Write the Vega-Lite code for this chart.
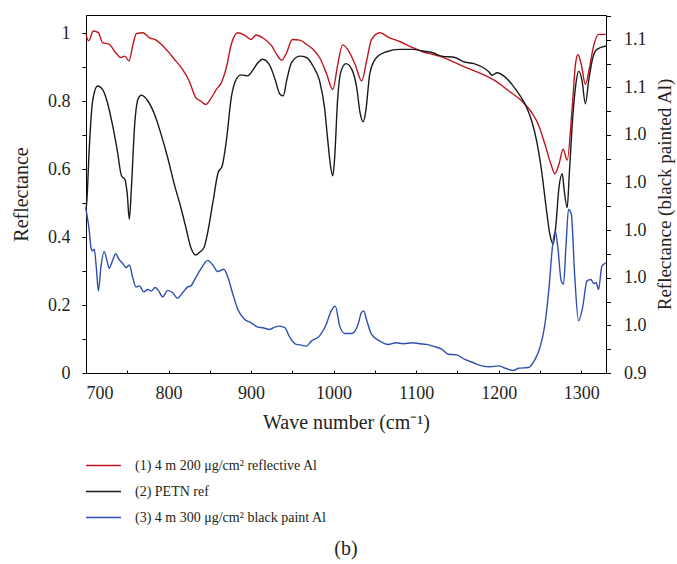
{
  "$schema": "https://vega.github.io/schema/vega-lite/v6.json",
  "width": 520,
  "height": 358,
  "autosize": {"type": "none"},
  "padding": {"left": 86, "top": 15, "right": 71, "bottom": 191},
  "background": "white",
  "title": {"text": "(b)", "orient": "bottom", "anchor": "middle", "font": "Liberation Serif", "fontSize": 20, "fontWeight": "normal", "color": "#231f20", "offset": 14},
  "config": {
    "view": {"stroke": "#000", "strokeWidth": 1},
    "axis": {"labelFont": "Liberation Serif", "labelFontSize": 18, "titleFont": "Liberation Serif", "titleFontSize": 20, "titleFontWeight": "normal", "labelColor": "#231f20", "titleColor": "#231f20", "domainColor": "#000", "tickColor": "#000", "grid": false},
    "legend": {"labelFont": "Liberation Serif", "titleFont": "Liberation Serif"}
  },
  "datasets": {
    "rb": [
      {"w":700,"r":0.996,"s":"1"},{"w":703,"r":0.977,"s":"1"},{"w":709,"r":1.006,"s":"1"},{"w":715,"r":1.001,"s":"1"},{"w":720,"r":0.972,"s":"1"},{"w":728,"r":0.967,"s":"1"},{"w":736,"r":0.942,"s":"1"},{"w":742,"r":0.928,"s":"1"},{"w":747,"r":0.932,"s":"1"},{"w":752,"r":0.918,"s":"1"},{"w":757,"r":0.967,"s":"1"},{"w":761,"r":0.998,"s":"1"},{"w":769,"r":1.001,"s":"1"},{"w":777,"r":0.986,"s":"1"},{"w":785,"r":0.979,"s":"1"},{"w":797,"r":0.952,"s":"1"},{"w":807,"r":0.923,"s":"1"},{"w":817,"r":0.893,"s":"1"},{"w":825,"r":0.859,"s":"1"},{"w":833,"r":0.81,"s":"1"},{"w":839,"r":0.8,"s":"1"},{"w":845,"r":0.79,"s":"1"},{"w":852,"r":0.81,"s":"1"},{"w":858,"r":0.834,"s":"1"},{"w":864,"r":0.854,"s":"1"},{"w":870,"r":0.898,"s":"1"},{"w":876,"r":0.967,"s":"1"},{"w":884,"r":1.001,"s":"1"},{"w":892,"r":0.994,"s":"1"},{"w":900,"r":0.981,"s":"1"},{"w":906,"r":0.994,"s":"1"},{"w":914,"r":0.986,"s":"1"},{"w":925,"r":0.962,"s":"1"},{"w":931,"r":0.937,"s":"1"},{"w":937,"r":0.92,"s":"1"},{"w":943,"r":0.942,"s":"1"},{"w":950,"r":0.981,"s":"1"},{"w":959,"r":0.979,"s":"1"},{"w":967,"r":0.967,"s":"1"},{"w":975,"r":0.952,"s":"1"},{"w":983,"r":0.928,"s":"1"},{"w":991,"r":0.883,"s":"1"},{"w":999,"r":0.834,"s":"1"},{"w":1005,"r":0.908,"s":"1"},{"w":1011,"r":0.965,"s":"1"},{"w":1017,"r":0.952,"s":"1"},{"w":1026,"r":0.908,"s":"1"},{"w":1034,"r":0.859,"s":"1"},{"w":1040,"r":0.918,"s":"1"},{"w":1046,"r":0.981,"s":"1"},{"w":1056,"r":1.001,"s":"1"},{"w":1066,"r":0.988,"s":"1"},{"w":1080,"r":0.975,"s":"1"},{"w":1096,"r":0.957,"s":"1"},{"w":1108,"r":0.945,"s":"1"},{"w":1120,"r":0.937,"s":"1"},{"w":1131,"r":0.93,"s":"1"},{"w":1147,"r":0.913,"s":"1"},{"w":1163,"r":0.896,"s":"1"},{"w":1180,"r":0.879,"s":"1"},{"w":1196,"r":0.859,"s":"1"},{"w":1212,"r":0.83,"s":"1"},{"w":1228,"r":0.8,"s":"1"},{"w":1240,"r":0.766,"s":"1"},{"w":1248,"r":0.731,"s":"1"},{"w":1256,"r":0.673,"s":"1"},{"w":1264,"r":0.609,"s":"1"},{"w":1268,"r":0.586,"s":"1"},{"w":1273,"r":0.614,"s":"1"},{"w":1278,"r":0.658,"s":"1"},{"w":1283,"r":0.626,"s":"1"},{"w":1289,"r":0.78,"s":"1"},{"w":1293,"r":0.908,"s":"1"},{"w":1296,"r":0.937,"s":"1"},{"w":1300,"r":0.908,"s":"1"},{"w":1305,"r":0.849,"s":"1"},{"w":1310,"r":0.898,"s":"1"},{"w":1315,"r":0.962,"s":"1"},{"w":1321,"r":0.996,"s":"1"},{"w":1330,"r":0.996,"s":"1"},
      {"w":700,"r":0.48,"s":"2"},{"w":701,"r":0.506,"s":"2"},{"w":704,"r":0.663,"s":"2"},{"w":708,"r":0.8,"s":"2"},{"w":714,"r":0.844,"s":"2"},{"w":720,"r":0.834,"s":"2"},{"w":726,"r":0.795,"s":"2"},{"w":732,"r":0.731,"s":"2"},{"w":738,"r":0.653,"s":"2"},{"w":743,"r":0.58,"s":"2"},{"w":747,"r":0.57,"s":"2"},{"w":750,"r":0.526,"s":"2"},{"w":752.5,"r":0.452,"s":"2"},{"w":755,"r":0.545,"s":"2"},{"w":759,"r":0.731,"s":"2"},{"w":763,"r":0.805,"s":"2"},{"w":767,"r":0.817,"s":"2"},{"w":775,"r":0.8,"s":"2"},{"w":783,"r":0.761,"s":"2"},{"w":791,"r":0.702,"s":"2"},{"w":799,"r":0.633,"s":"2"},{"w":807,"r":0.555,"s":"2"},{"w":815,"r":0.486,"s":"2"},{"w":821,"r":0.428,"s":"2"},{"w":827,"r":0.369,"s":"2"},{"w":833,"r":0.347,"s":"2"},{"w":837,"r":0.354,"s":"2"},{"w":843,"r":0.369,"s":"2"},{"w":847,"r":0.408,"s":"2"},{"w":854,"r":0.506,"s":"2"},{"w":860,"r":0.589,"s":"2"},{"w":865,"r":0.609,"s":"2"},{"w":870,"r":0.682,"s":"2"},{"w":876,"r":0.81,"s":"2"},{"w":882,"r":0.864,"s":"2"},{"w":888,"r":0.877,"s":"2"},{"w":896,"r":0.874,"s":"2"},{"w":902,"r":0.89,"s":"2"},{"w":908,"r":0.912,"s":"2"},{"w":914,"r":0.923,"s":"2"},{"w":923,"r":0.903,"s":"2"},{"w":929,"r":0.864,"s":"2"},{"w":935,"r":0.82,"s":"2"},{"w":939,"r":0.815,"s":"2"},{"w":943,"r":0.859,"s":"2"},{"w":949,"r":0.913,"s":"2"},{"w":959,"r":0.932,"s":"2"},{"w":967,"r":0.928,"s":"2"},{"w":975,"r":0.903,"s":"2"},{"w":983,"r":0.859,"s":"2"},{"w":989,"r":0.78,"s":"2"},{"w":993,"r":0.682,"s":"2"},{"w":996,"r":0.614,"s":"2"},{"w":999,"r":0.58,"s":"2"},{"w":1001,"r":0.624,"s":"2"},{"w":1005,"r":0.81,"s":"2"},{"w":1009,"r":0.888,"s":"2"},{"w":1015,"r":0.91,"s":"2"},{"w":1022,"r":0.893,"s":"2"},{"w":1028,"r":0.839,"s":"2"},{"w":1032,"r":0.766,"s":"2"},{"w":1036,"r":0.739,"s":"2"},{"w":1039,"r":0.771,"s":"2"},{"w":1044,"r":0.883,"s":"2"},{"w":1052,"r":0.928,"s":"2"},{"w":1064,"r":0.945,"s":"2"},{"w":1080,"r":0.952,"s":"2"},{"w":1096,"r":0.952,"s":"2"},{"w":1108,"r":0.947,"s":"2"},{"w":1120,"r":0.942,"s":"2"},{"w":1131,"r":0.932,"s":"2"},{"w":1147,"r":0.928,"s":"2"},{"w":1157,"r":0.916,"s":"2"},{"w":1170,"r":0.91,"s":"2"},{"w":1180,"r":0.9,"s":"2"},{"w":1188,"r":0.886,"s":"2"},{"w":1192,"r":0.876,"s":"2"},{"w":1198,"r":0.883,"s":"2"},{"w":1206,"r":0.874,"s":"2"},{"w":1216,"r":0.849,"s":"2"},{"w":1226,"r":0.815,"s":"2"},{"w":1234,"r":0.78,"s":"2"},{"w":1240,"r":0.741,"s":"2"},{"w":1246,"r":0.682,"s":"2"},{"w":1252,"r":0.594,"s":"2"},{"w":1258,"r":0.477,"s":"2"},{"w":1262,"r":0.408,"s":"2"},{"w":1266,"r":0.38,"s":"2"},{"w":1269,"r":0.428,"s":"2"},{"w":1273,"r":0.545,"s":"2"},{"w":1277,"r":0.586,"s":"2"},{"w":1279,"r":0.545,"s":"2"},{"w":1283,"r":0.486,"s":"2"},{"w":1285.5,"r":0.584,"s":"2"},{"w":1290,"r":0.761,"s":"2"},{"w":1294,"r":0.859,"s":"2"},{"w":1297,"r":0.888,"s":"2"},{"w":1301,"r":0.859,"s":"2"},{"w":1305,"r":0.792,"s":"2"},{"w":1309,"r":0.859,"s":"2"},{"w":1314,"r":0.927,"s":"2"},{"w":1319,"r":0.952,"s":"2"},{"w":1330,"r":0.962,"s":"2"}
    ],
    "bl": [
      {"w":700,"b":1.0087,"s":"3"},{"w":701,"b":1.0067,"s":"3"},{"w":704,"b":0.9997,"s":"3"},{"w":706,"b":0.9927,"s":"3"},{"w":708,"b":0.9913,"s":"3"},{"w":710,"b":0.992,"s":"3"},{"w":712.5,"b":0.9843,"s":"3"},{"w":715,"b":0.9744,"s":"3"},{"w":718,"b":0.9843,"s":"3"},{"w":722,"b":0.991,"s":"3"},{"w":725.5,"b":0.9871,"s":"3"},{"w":728,"b":0.984,"s":"3"},{"w":732,"b":0.9871,"s":"3"},{"w":736,"b":0.9901,"s":"3"},{"w":740,"b":0.9877,"s":"3"},{"w":744.5,"b":0.986,"s":"3"},{"w":748.5,"b":0.9843,"s":"3"},{"w":752.5,"b":0.9854,"s":"3"},{"w":756.6,"b":0.9801,"s":"3"},{"w":760.6,"b":0.9761,"s":"3"},{"w":764.7,"b":0.9766,"s":"3"},{"w":770,"b":0.9741,"s":"3"},{"w":775,"b":0.9751,"s":"3"},{"w":779,"b":0.9744,"s":"3"},{"w":783.7,"b":0.9759,"s":"3"},{"w":787.7,"b":0.9747,"s":"3"},{"w":793,"b":0.972,"s":"3"},{"w":799,"b":0.9747,"s":"3"},{"w":805,"b":0.9737,"s":"3"},{"w":811,"b":0.9714,"s":"3"},{"w":817,"b":0.9737,"s":"3"},{"w":823,"b":0.9761,"s":"3"},{"w":827,"b":0.9766,"s":"3"},{"w":833,"b":0.9801,"s":"3"},{"w":839,"b":0.9836,"s":"3"},{"w":847.5,"b":0.9873,"s":"3"},{"w":853.6,"b":0.9854,"s":"3"},{"w":859.6,"b":0.9826,"s":"3"},{"w":867,"b":0.9836,"s":"3"},{"w":872,"b":0.9801,"s":"3"},{"w":878,"b":0.973,"s":"3"},{"w":884,"b":0.9667,"s":"3"},{"w":892,"b":0.9626,"s":"3"},{"w":900,"b":0.9611,"s":"3"},{"w":908,"b":0.9593,"s":"3"},{"w":914,"b":0.959,"s":"3"},{"w":922.6,"b":0.9583,"s":"3"},{"w":928.6,"b":0.9593,"s":"3"},{"w":934.7,"b":0.9597,"s":"3"},{"w":941,"b":0.959,"s":"3"},{"w":946.8,"b":0.9551,"s":"3"},{"w":955,"b":0.952,"s":"3"},{"w":961,"b":0.9517,"s":"3"},{"w":967,"b":0.9513,"s":"3"},{"w":973,"b":0.9534,"s":"3"},{"w":983,"b":0.9556,"s":"3"},{"w":991,"b":0.9604,"s":"3"},{"w":997,"b":0.966,"s":"3"},{"w":1002,"b":0.9681,"s":"3"},{"w":1007.4,"b":0.9597,"s":"3"},{"w":1013.5,"b":0.9566,"s":"3"},{"w":1021.6,"b":0.9566,"s":"3"},{"w":1029.6,"b":0.9604,"s":"3"},{"w":1033.7,"b":0.9654,"s":"3"},{"w":1036.5,"b":0.9661,"s":"3"},{"w":1039.7,"b":0.9626,"s":"3"},{"w":1045.8,"b":0.9563,"s":"3"},{"w":1056,"b":0.9534,"s":"3"},{"w":1066,"b":0.952,"s":"3"},{"w":1076,"b":0.9527,"s":"3"},{"w":1084,"b":0.9523,"s":"3"},{"w":1096,"b":0.9527,"s":"3"},{"w":1104,"b":0.9523,"s":"3"},{"w":1112.5,"b":0.952,"s":"3"},{"w":1120,"b":0.9513,"s":"3"},{"w":1131,"b":0.95,"s":"3"},{"w":1139,"b":0.9479,"s":"3"},{"w":1149,"b":0.9476,"s":"3"},{"w":1159,"b":0.9457,"s":"3"},{"w":1169.5,"b":0.9443,"s":"3"},{"w":1179.5,"b":0.943,"s":"3"},{"w":1189.6,"b":0.9426,"s":"3"},{"w":1199.7,"b":0.943,"s":"3"},{"w":1208,"b":0.942,"s":"3"},{"w":1218,"b":0.9411,"s":"3"},{"w":1224,"b":0.942,"s":"3"},{"w":1236,"b":0.9423,"s":"3"},{"w":1244,"b":0.9457,"s":"3"},{"w":1250,"b":0.9507,"s":"3"},{"w":1256,"b":0.9604,"s":"3"},{"w":1261,"b":0.9759,"s":"3"},{"w":1265,"b":0.9927,"s":"3"},{"w":1268.5,"b":0.9997,"s":"3"},{"w":1271.7,"b":0.9927,"s":"3"},{"w":1275.7,"b":0.9787,"s":"3"},{"w":1278.5,"b":0.9773,"s":"3"},{"w":1281.4,"b":0.9927,"s":"3"},{"w":1284.6,"b":1.0087,"s":"3"},{"w":1288,"b":1.0067,"s":"3"},{"w":1292,"b":0.9814,"s":"3"},{"w":1296.7,"b":0.9619,"s":"3"},{"w":1301.6,"b":0.9674,"s":"3"},{"w":1307,"b":0.9787,"s":"3"},{"w":1311.7,"b":0.9793,"s":"3"},{"w":1315,"b":0.9776,"s":"3"},{"w":1318,"b":0.978,"s":"3"},{"w":1321,"b":0.9751,"s":"3"},{"w":1325,"b":0.9849,"s":"3"},{"w":1330,"b":0.9863,"s":"3"}
    ]
  },
  "layer": [
    {
      "data": {"name": "rb"},
      "mark": {"type": "line", "interpolate": "monotone", "strokeWidth": 1.4},
      "encoding": {
        "x": {"field": "w", "type": "quantitative", "scale": {"domain": [700, 1330], "nice": false, "zero": false},
              "axis": {"title": "Wave number (cm⁻¹)", "values": [700,750,800,850,900,950,1000,1050,1100,1150,1200,1250,1300], "labelExpr": "datum.value % 100 == 0 ? '' + datum.value : ''", "tickSize": -3, "labelPadding": 14, "titlePadding": 10}},
        "y": {"field": "r", "type": "quantitative", "scale": {"domain": [0, 1.053], "nice": false, "zero": false},
              "axis": {"title": "Reflectance", "values": [0,0.1,0.2,0.3,0.4,0.5,0.6,0.7,0.8,0.9,1.0], "labelExpr": "round(datum.value*10) % 2 == 0 ? (datum.value == 0 ? '0' : (datum.value > 0.99 ? '1' : format(datum.value, '.1f'))) : ''", "tickSize": 4, "labelPadding": 12, "titlePadding": 16}},
        "color": {"field": "s", "type": "nominal",
                  "scale": {"domain": ["1", "2", "3"], "range": ["#c0151f", "#1a1a1a", "#2e4fae"]},
                  "legend": {"orient": "none", "legendX": -1, "legendY": 432, "title": null, "padding": 0, "symbolType": "stroke", "symbolSize": 1225, "symbolStrokeWidth": 1.4, "labelFont": "Liberation Serif", "labelFontSize": 14, "labelColor": "#231f20", "labelOffset": 13, "rowPadding": -10, "labelLimit": 400,
                             "labelExpr": "datum.value == '1' ? '(1) 4 m 200 μg/cm² reflective Al' : (datum.value == '2' ? '(2) PETN ref' : '(3) 4 m 300 μg/cm² black paint Al')"}}
      }
    },
    {
      "data": {"name": "bl"},
      "mark": {"type": "line", "interpolate": "monotone", "strokeWidth": 1.4},
      "encoding": {
        "x": {"field": "w", "type": "quantitative"},
        "y": {"field": "b", "type": "quantitative", "scale": {"domain": [0.94, 1.0904], "nice": false, "zero": false},
              "axis": {"orient": "right", "title": "Reflectance (black painted Al)", "titleAngle": 270, "titleBaseline": "top", "titleFontSize": 19, "values": [0.94,0.95,0.96,0.97,0.98,0.99,1.0,1.01,1.02,1.03,1.04,1.05,1.06,1.07,1.08,1.09], "labelExpr": "round(datum.value*100) % 2 == 0 ? format(datum.value, '.1f') : ''", "tickSize": 4.5, "labelPadding": 13, "titlePadding": 9}},
        "color": {"field": "s", "type": "nominal"}
      }
    }
  ],
  "resolve": {"scale": {"y": "independent"}}
}
